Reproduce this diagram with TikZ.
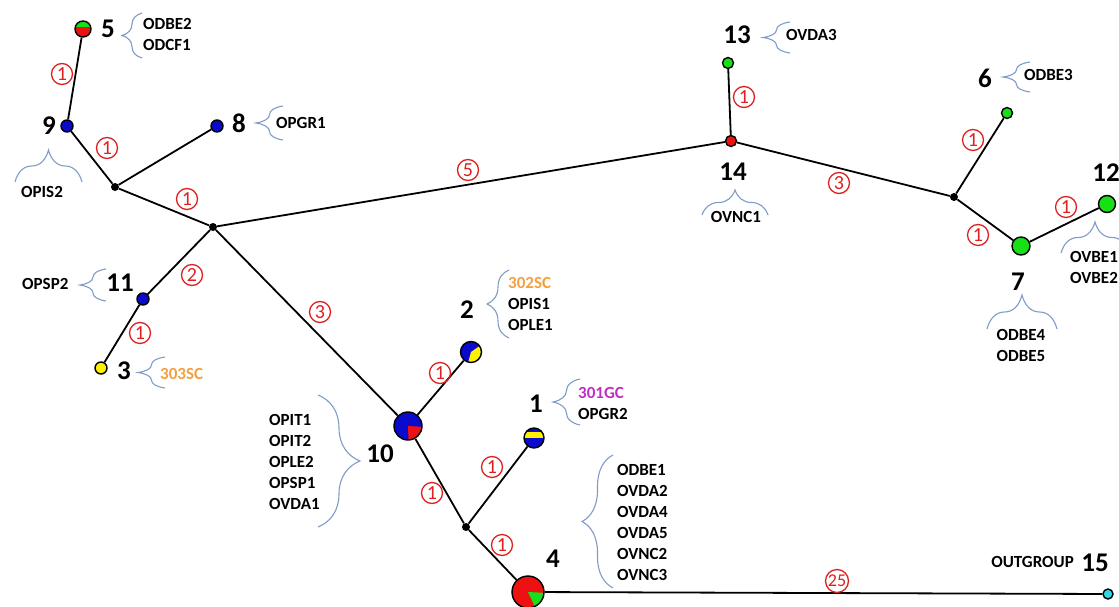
\documentclass[tikz,border=0pt]{standalone}
\usepackage{fontspec}
\setmainfont{Carlito}
\usetikzlibrary{backgrounds,decorations.pathreplacing}

\definecolor{hblue}{HTML}{0A0ACC}
\definecolor{hgreen}{HTML}{18E018}
\definecolor{hred}{HTML}{EE1111}
\definecolor{hyellow}{HTML}{FFF000}
\definecolor{hcyan}{HTML}{30D8E8}
\definecolor{mutred}{HTML}{DD2020}
\definecolor{bracecol}{HTML}{7F9CC8}
\definecolor{scorange}{HTML}{F2A040}
\definecolor{gcmagenta}{HTML}{BF2FC4}

\begin{document}
\begin{tikzpicture}[x=1pt,y=-1pt,
  vtx/.style={circle, draw=black, line width=1.4pt, inner sep=0pt},
  jn/.style={circle, fill=black, inner sep=0pt, minimum size=8pt},
  edge/.style={line width=1.8pt},
  mut/.style={circle, draw=mutred, line width=1.3pt, text=mutred, inner sep=0pt,
    minimum size=21pt, font=\fontsize{20}{20}\selectfont},
  num/.style={inner sep=0pt, font=\bfseries\fontsize{27}{30}\selectfont},
  lst/.style={inner sep=0pt, anchor=west, align=left, font=\bfseries\fontsize{17}{21}\selectfont},
  brc/.style={decorate, decoration={brace, amplitude=#1}, draw=bracecol, line width=1.1pt}
]
\useasboundingbox (0,0) rectangle (1119,607);
\clip (0,0) rectangle (1119,607);

% haplotype vertices
\node[vtx, fill=hred, minimum size=16pt,
  path picture={\fill[hgreen] ([shift={(-20pt,2pt)}]path picture bounding box.center) rectangle ++(40pt,20pt);}]
  (n5) at (83,29) {};
\node[vtx, fill=hblue, minimum size=12pt] (n9) at (67,126) {};
\node[vtx, fill=hblue, minimum size=12pt] (n8) at (217,126) {};
\node[jn] (jA) at (115,187) {};
\node[jn] (jB) at (213,227) {};
\node[vtx, fill=hblue, minimum size=12pt] (n11) at (143,299) {};
\node[vtx, fill=hyellow, minimum size=12pt] (n3) at (101,368) {};
\node[vtx, fill=hblue, minimum size=28pt,
  path picture={\fill[hred] (path picture bounding box.center) -- ++(-3:20pt) arc[start angle=-3, end angle=-88, radius=20pt] -- cycle;}]
  (n10) at (408,426) {};
\node[vtx, fill=hblue, minimum size=21pt,
  path picture={\fill[hyellow] (path picture bounding box.center) -- ++(35:20pt) arc[start angle=35, end angle=-105, radius=20pt] -- cycle;}]
  (n2) at (471,352) {};
\node[vtx, fill=hblue, minimum size=20pt,
  path picture={\fill[hyellow] ([shift={(-20pt,0pt)}]path picture bounding box.center) rectangle ++(40pt,6.5pt);}]
  (n1) at (534,438) {};
\node[jn] (jC) at (466,527) {};
\node[vtx, fill=hred, minimum size=32pt,
  path picture={\fill[hgreen] (path picture bounding box.center) -- ++(-3:24pt) arc[start angle=-3, end angle=-65, radius=24pt] -- cycle;}]
  (n4) at (528,592) {};
\node[vtx, fill=hcyan, minimum size=10pt] (n15) at (1108,594) {};
\node[vtx, fill=hred, minimum size=11pt] (n14) at (731,141) {};
\node[vtx, fill=hgreen, minimum size=11pt] (n13) at (728,63) {};
\node[jn] (jD) at (954,197) {};
\node[vtx, fill=hgreen, minimum size=11pt] (n6) at (1007,113) {};
\node[vtx, fill=hgreen, minimum size=18pt] (n7) at (1021,246) {};
\node[vtx, fill=hgreen, minimum size=17pt] (n12) at (1107,204) {};

% network branches
\begin{scope}[on background layer]
\draw[edge] (n5) -- (n9);
\draw[edge] (n9) -- (jA);
\draw[edge] (n8) -- (jA);
\draw[edge] (jA) -- (jB);
\draw[edge] (jB) -- (n14);
\draw[edge] (jB) -- (n11);
\draw[edge] (n11) -- (n3);
\draw[edge] (jB) -- (n10);
\draw[edge] (n10) -- (n2);
\draw[edge] (n10) -- (jC);
\draw[edge] (jC) -- (n1);
\draw[edge] (jC) -- (n4);
\draw[edge] (n4) -- (n15);
\draw[edge] (n14) -- (n13);
\draw[edge] (n14) -- (jD);
\draw[edge] (jD) -- (n6);
\draw[edge] (jD) -- (n7);
\draw[edge] (n7) -- (n12);
\end{scope}

% mutation counts
\node[mut] (m59) at (62,74) {1};
\node[mut] (m9A) at (107,148) {1};
\node[mut] (mAB) at (187,199) {1};
\node[mut] (mB14) at (468,170) {5};
\node[mut] (mB11) at (192,275) {2};
\node[mut] (m113) at (140,333) {1};
\node[mut] (mB10) at (320,312) {3};
\node[mut] (m102) at (440,373) {1};
\node[mut] (m10C) at (432,493) {1};
\node[mut] (mC1) at (492,467) {1};
\node[mut] (mC4) at (502,545) {1};
\node[mut, minimum size=23pt, font=\fontsize{18}{18}\selectfont] (m415) at (837,581) {25};
\node[mut] (m1413) at (744,97) {1};
\node[mut] (m14D) at (839,183) {3};
\node[mut] (mD6) at (973,140) {1};
\node[mut] (mD7) at (978,235) {1};
\node[mut] (m712) at (1066,207) {1};

% haplotype numbers
\node[num] (l5) at (108,29) {5};
\node[num] (l9) at (49,126) {9};
\node[num] (l8) at (239,123) {8};
\node[num] (l11) at (120,283) {11};
\node[num] (l3) at (124,371) {3};
\node[num] (l2) at (467,310) {2};
\node[num] (l10) at (380,454) {10};
\node[num] (l1) at (536,404) {1};
\node[num] (l4) at (553,559) {4};
\node[num] (l14) at (733,172) {14};
\node[num] (l13) at (737,35) {13};
\node[num] (l6) at (985,78) {6};
\node[num] (l7) at (1018,282) {7};
\node[num] (l12) at (1106,173) {12};
\node[num] (l15) at (1095,563) {15};

% braces
\draw[brc=20] (142,58) -- (142,13);
\draw[brc=27] (283,140) -- (283,106);
\draw[brc=32] (15,182) -- (82,182);
\draw[brc=26] (106,301) -- (106,269);
\draw[brc=27] (165,388) -- (165,357);
\draw[brc=22] (509,338) -- (509,270);
\draw[brc=42] (318,395) -- (318,527);
\draw[brc=27] (580,425) -- (580,379);
\draw[brc=31] (613,588) -- (613,455);
\draw[brc=27] (790,53) -- (790,22);
\draw[brc=25] (702,215) -- (768,215);
\draw[brc=27] (1030,92) -- (1030,62);
\draw[brc=34] (987,329) -- (1057,329);
\draw[brc=31] (1061,253) -- (1129,253);

% sample lists
\node[lst] (t5) at (143,34) {ODBE2\\ODCF1};
\node[lst] (t8) at (276,123) {OPGR1};
\node[lst, anchor=center] (t9) at (42,192) {OPIS2};
\node[lst] (t11) at (22,284) {OPSP2};
\node[lst, text=scorange] (t3) at (160,374) {303SC};
\node[lst] (t2) at (508,304) {\textcolor{scorange}{302SC}\\OPIS1\\OPLE1};
\node[lst] (t10) at (269,462) {OPIT1\\OPIT2\\OPLE2\\OPSP1\\OVDA1};
\node[lst] (t1) at (578,403) {\textcolor{gcmagenta}{301GC}\\OPGR2};
\node[lst] (t4) at (617,522) {ODBE1\\OVDA2\\OVDA4\\OVDA5\\OVNC2\\OVNC3};
\node[lst] (t13) at (786,35) {OVDA3};
\node[lst] (t6) at (1024,75) {ODBE3};
\node[lst, anchor=center] (t14) at (736,217) {OVNC1};
\node[lst, anchor=center] (t7) at (1021,345) {ODBE4\\ODBE5};
\node[lst] (t12) at (1070,267) {OVBE1\\OVBE2};
\node[lst, anchor=east] (t15) at (1074,562) {OUTGROUP};
\end{tikzpicture}
\end{document}
